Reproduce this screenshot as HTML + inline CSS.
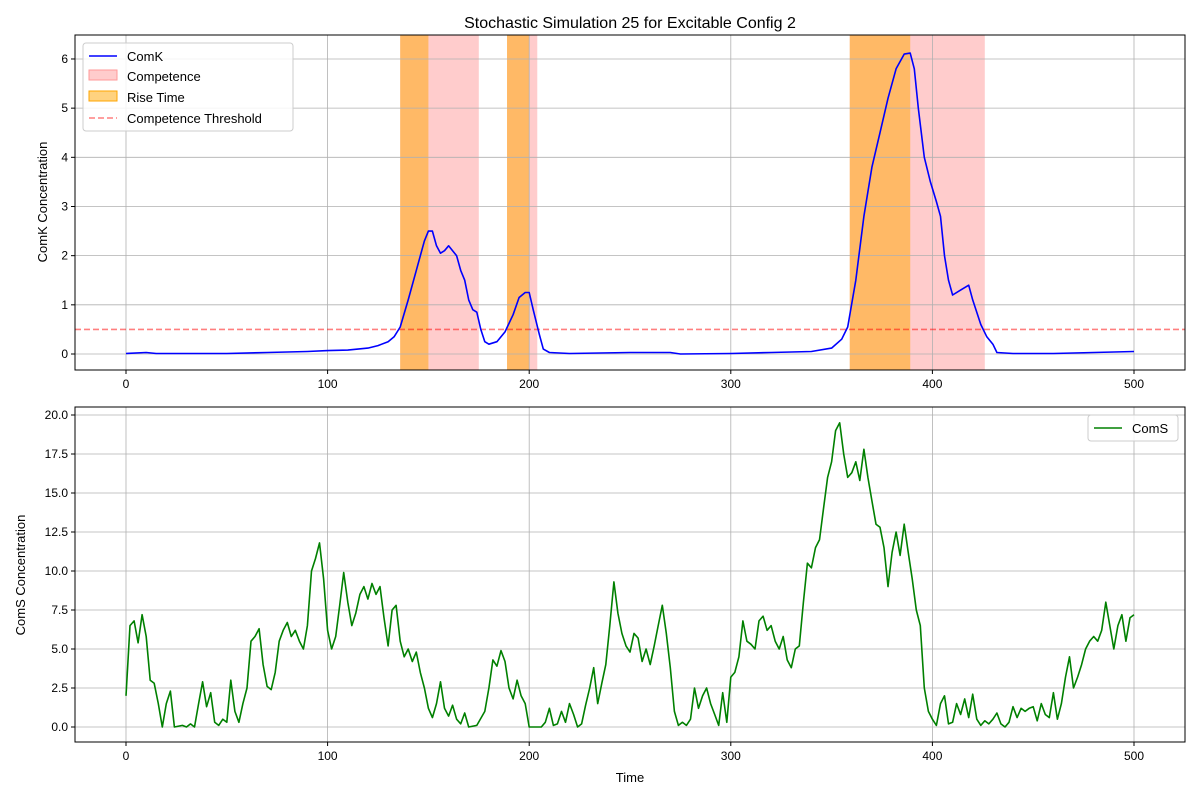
<!DOCTYPE html>
<html><head><meta charset="utf-8">
<style>
html,body{margin:0;padding:0;background:#fff;}
svg{display:block;font-family:"Liberation Sans","DejaVu Sans",sans-serif;}
</style></head>
<body>
<svg id="chart" width="1200" height="800" viewBox="0 0 1200 800"></svg>
<script>
const comkT=[0,10,15,30,50,70,90,100,110,120,125,130,133,136,140,144,148,150,152,154,156,158,160,162,164,166,168,170,172,174,176,178,180,184,188,192,195,198,200,202,205,207,210,220,250,270,275,300,320,340,350,355,358,362,366,370,374,378,382,386,389,391,393,396,399,402,404,406,408,410,414,418,420,424,427,430,432,440,460,480,500];
const comkV=[0.01,0.03,0.01,0.01,0.01,0.03,0.05,0.07,0.08,0.12,0.17,0.25,0.35,0.55,1.1,1.7,2.3,2.5,2.5,2.2,2.05,2.1,2.2,2.1,2.0,1.7,1.5,1.1,0.9,0.85,0.5,0.25,0.2,0.25,0.45,0.8,1.15,1.25,1.25,0.9,0.4,0.1,0.03,0.01,0.03,0.03,0.0,0.01,0.03,0.05,0.12,0.3,0.55,1.5,2.8,3.8,4.5,5.2,5.8,6.1,6.12,5.8,5.0,4.0,3.5,3.1,2.8,2.0,1.5,1.2,1.3,1.4,1.1,0.6,0.35,0.2,0.03,0.01,0.01,0.03,0.05];
const competence=[[136,175],[189,204],[359,426]];
const riseTime=[[136,150],[189,200],[359,389]];
const threshold=0.5;
const comsT=[0,2,4,6,8,10,12,14,16,18,20,22,24,28,30,32,34,36,38,40,42,44,46,48,50,52,54,56,58,60,62,64,66,68,70,72,74,76,78,80,82,84,86,88,90,92,94,96,98,100,102,104,106,108,110,112,114,116,118,120,122,124,126,128,130,132,134,136,138,140,142,144,146,148,150,152,154,156,158,160,162,164,166,168,170,174,178,180,182,184,186,188,190,192,194,196,198,200,206,208,210,212,214,216,218,220,222,224,226,228,230,232,234,236,238,240,242,244,246,248,250,252,254,256,258,260,262,264,266,268,270,272,274,276,278,280,282,284,286,288,290,292,294,296,298,300,302,304,306,308,310,312,314,316,318,320,322,324,326,328,330,332,334,336,338,340,342,344,346,348,350,352,354,356,358,360,362,364,366,368,370,372,374,376,378,380,382,384,386,388,390,392,394,396,398,400,402,404,406,408,410,412,414,416,418,420,422,424,426,428,430,432,434,436,438,440,442,444,446,448,450,452,454,456,458,460,462,464,466,468,470,472,474,476,478,480,482,484,486,488,490,492,494,496,498,500];
const comsV=[2.0,6.5,6.8,5.4,7.2,5.8,3.0,2.8,1.5,0.0,1.5,2.3,0.0,0.1,0.0,0.2,0.0,1.5,2.9,1.3,2.2,0.3,0.1,0.5,0.3,3.0,1.0,0.3,1.5,2.5,5.5,5.8,6.3,4.0,2.6,2.4,3.5,5.5,6.2,6.7,5.8,6.2,5.5,5.0,6.5,10.0,10.8,11.8,9.5,6.2,5.0,5.8,7.8,9.9,8.0,6.5,7.3,8.5,9.0,8.2,9.2,8.5,9.0,7.0,5.2,7.5,7.8,5.5,4.5,5.0,4.2,4.8,3.5,2.5,1.2,0.6,1.5,2.9,1.2,0.7,1.4,0.5,0.2,0.9,0.0,0.1,1.0,2.5,4.3,3.9,4.9,4.2,2.5,1.8,3.0,2.0,1.5,0.0,0.0,0.3,1.2,0.1,0.2,1.0,0.3,1.5,0.8,0.0,0.2,1.4,2.5,3.8,1.5,2.8,4.0,6.5,9.3,7.3,6.0,5.2,4.8,6.0,5.7,4.2,5.0,4.0,5.2,6.5,7.8,6.0,3.8,1.0,0.1,0.3,0.1,0.5,2.5,1.2,2.0,2.5,1.5,0.8,0.1,2.2,0.3,3.2,3.5,4.5,6.8,5.5,5.3,5.0,6.8,7.1,6.2,6.5,5.5,5.0,5.8,4.3,3.8,5.0,5.2,8.0,10.5,10.2,11.5,12.0,14.0,16.0,17.0,19.0,19.5,17.5,16.0,16.3,17.0,15.8,17.8,16.0,14.5,13.0,12.8,11.5,9.0,11.2,12.5,11.0,13.0,11.2,9.5,7.5,6.5,2.5,1.0,0.5,0.1,1.5,2.0,0.2,0.3,1.5,0.8,1.8,0.6,2.1,0.5,0.1,0.4,0.2,0.5,0.9,0.2,0.0,0.3,1.3,0.6,1.2,1.0,1.2,1.3,0.4,1.5,0.8,0.6,2.2,0.5,1.5,3.2,4.5,2.5,3.2,4.0,5.0,5.5,5.8,5.5,6.2,8.0,6.5,5.0,6.5,7.2,5.5,7.0,7.2];
const xTicks=[0,100,200,300,400,500];
const topYTicks=[0,1,2,3,4,5,6];
const botYTicks=[0,2.5,5,7.5,10,12.5,15,17.5,20];

const NS="http://www.w3.org/2000/svg";
const svg=document.getElementById('chart');
function el(tag,attrs,parent,text){const e=document.createElementNS(NS,tag);for(const k in attrs)e.setAttribute(k,attrs[k]);if(text!==undefined)e.textContent=text;(parent||svg).appendChild(e);return e;}
const X=t=>126+t*2.016;
const Y1=v=>354-v*49.17;
const Y2=v=>727-v*15.6;
const L=75,R=1185;

function axes(top,bot,yTicks,Y,fmt,name){
  const g=el('g',{});
  
  
  xTicks.forEach(t=>{el('line',{x1:X(t),x2:X(t),y1:top,y2:bot,stroke:'#b0b0b0','stroke-width':0.8},g);
    el('line',{x1:X(t),x2:X(t),y1:bot,y2:bot+4,stroke:'#000'},g);
    const tx=el('text',{x:X(t),y:bot+18,'font-size':12,'text-anchor':'middle'},g,String(t));
    });
  yTicks.forEach(v=>{el('line',{x1:L,x2:R,y1:Y(v),y2:Y(v),stroke:'#b0b0b0','stroke-width':0.8},g);
    el('line',{x1:L-4,x2:L,y1:Y(v),y2:Y(v),stroke:'#000'},g);
    const tx=el('text',{x:L-7,y:Y(v)+4,'font-size':12,'text-anchor':'end'},g,fmt(v));
    });
  return g;
}
function frame(top,bot){el('rect',{x:L,y:top,width:R-L,height:bot-top,fill:'none',stroke:'#000','stroke-width':1});}
function path(T,V,Y,color,name){const d=T.map((t,i)=>(i?'L':'M')+X(t).toFixed(1)+','+Y(V[i]).toFixed(1)).join('');
  const p=el('path',{d:d,fill:'none',stroke:color,'stroke-width':1.6,'stroke-linejoin':'round'});
  }

// Top panel
competence.forEach(r=>{const e=el('rect',{x:X(r[0]),y:35,width:X(r[1])-X(r[0]),height:335,fill:'#ff9999','fill-opacity':0.5});
  });
riseTime.forEach(r=>{const e=el('rect',{x:X(r[0]),y:35,width:X(r[1])-X(r[0]),height:335,fill:'#ffa500','fill-opacity':0.5});
  });
axes(35,370,topYTicks,Y1,v=>String(v),'top-axes');
const th=el('line',{x1:L,x2:R,y1:Y1(threshold),y2:Y1(threshold),stroke:'#ff0000','stroke-opacity':0.5,'stroke-width':1.6,'stroke-dasharray':'6,3'});

path(comkT,comkV,Y1,'#0000ff','comk-line');
frame(35,370);
const t1=el('text',{x:630,y:28,'font-size':16,'text-anchor':'middle'},svg,'Stochastic Simulation 25 for Excitable Config 2');

const yl1=el('text',{x:0,y:0,'font-size':13,'text-anchor':'middle',transform:'translate(47,202) rotate(-90)'},svg,'ComK Concentration');


// Legend top
const lg=el('g',{});

el('rect',{x:83,y:43,width:210,height:88,rx:3,fill:'#fff','fill-opacity':0.85,stroke:'#ccc'},lg);
el('line',{x1:89,x2:117,y1:56,y2:56,stroke:'#0000ff','stroke-width':1.6},lg);
el('text',{x:127,y:61,'font-size':13},lg,'ComK');
el('rect',{x:89,y:70,width:28,height:10,fill:'#ff9999','fill-opacity':0.5,stroke:'#ff9999'},lg);
el('text',{x:127,y:81,'font-size':13},lg,'Competence');
el('rect',{x:89,y:91,width:28,height:10,fill:'#ffa500','fill-opacity':0.5,stroke:'#ffa500'},lg);
el('text',{x:127,y:102,'font-size':13},lg,'Rise Time');
el('line',{x1:89,x2:117,y1:118,y2:118,stroke:'#ff0000','stroke-opacity':0.5,'stroke-width':1.6,'stroke-dasharray':'6,3'},lg);
el('text',{x:127,y:123,'font-size':13},lg,'Competence Threshold');

// Bottom panel
axes(407,742,botYTicks,Y2,v=>v.toFixed(1),'bottom-axes');
path(comsT,comsV,Y2,'#008000','coms-line');
frame(407,742);
const yl2=el('text',{x:0,y:0,'font-size':13,'text-anchor':'middle',transform:'translate(25,575) rotate(-90)'},svg,'ComS Concentration');

const xl=el('text',{x:630,y:782,'font-size':13,'text-anchor':'middle'},svg,'Time');

const lg2=el('g',{});

el('rect',{x:1088,y:415,width:90,height:26,rx:3,fill:'#fff','fill-opacity':0.85,stroke:'#ccc'},lg2);
el('line',{x1:1094,x2:1122,y1:428,y2:428,stroke:'#008000','stroke-width':1.6},lg2);
el('text',{x:1132,y:433,'font-size':13},lg2,'ComS');
</script>
</body></html>
